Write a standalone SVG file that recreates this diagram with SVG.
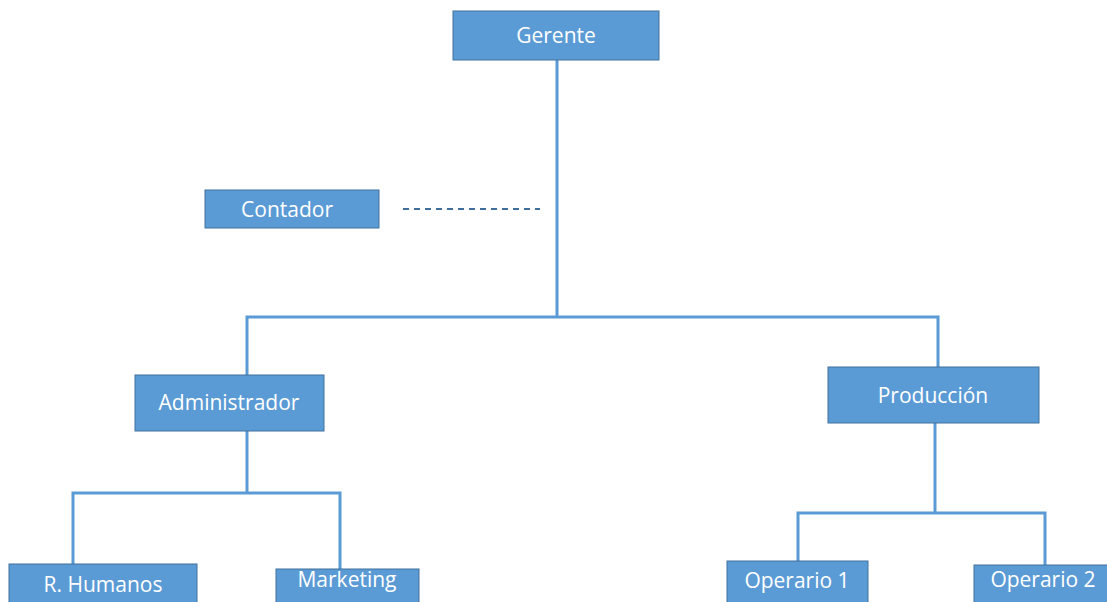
<svg xmlns="http://www.w3.org/2000/svg" width="1107" height="602" viewBox="0 0 1107 602">
<style>
.box{fill:#5B9BD5;stroke:#41719C;stroke-width:1}
.lbl{font-family:"Open Sans",sans-serif;font-size:21px;fill:#ffffff;text-anchor:middle}
.ln{stroke:#5B9BD5;stroke-width:3;fill:none}
.dash{stroke:#3F6E9C;stroke-width:1.8;stroke-dasharray:6 5;fill:none}
</style>
<rect width="1107" height="602" fill="#ffffff"/>
<g id="connectors">
<path class="ln" d="M557 60 V317"/>
<path class="ln" d="M247 375 V317 H938 V367"/>
<path class="ln" d="M247 431 V493"/>
<path class="ln" d="M73 564 V493 H340 V569"/>
<path class="ln" d="M935 423 V513"/>
<path class="ln" d="M798 561 V513 H1045 V565"/>
<path class="dash" d="M403 209 H540"/>
</g>
<g id="gerente"><rect class="box" x="453" y="11" width="206" height="49"/><text class="lbl" x="556" y="43">Gerente</text></g>
<g id="contador"><rect class="box" x="205" y="190" width="174" height="38"/><text class="lbl" x="287" y="217">Contador</text></g>
<g id="administrador"><rect class="box" x="135" y="375" width="189" height="56"/><text class="lbl" x="229" y="410">Administrador</text></g>
<g id="produccion"><rect class="box" x="828" y="367" width="211" height="56"/><text class="lbl" x="933" y="403">Producción</text></g>
<g id="rhumanos"><rect class="box" x="9" y="564" width="188" height="50"/><text class="lbl" x="103" y="592">R. Humanos</text></g>
<g id="marketing"><rect class="box" x="276" y="569" width="143" height="45"/><text class="lbl" x="347" y="587">Marketing</text></g>
<g id="operario1"><rect class="box" x="727" y="561" width="141" height="50"/><text class="lbl" x="797" y="588">Operario 1</text></g>
<g id="operario2"><rect class="box" x="974" y="565" width="140" height="50"/><text class="lbl" x="1043" y="587">Operario 2</text></g>
</svg>
